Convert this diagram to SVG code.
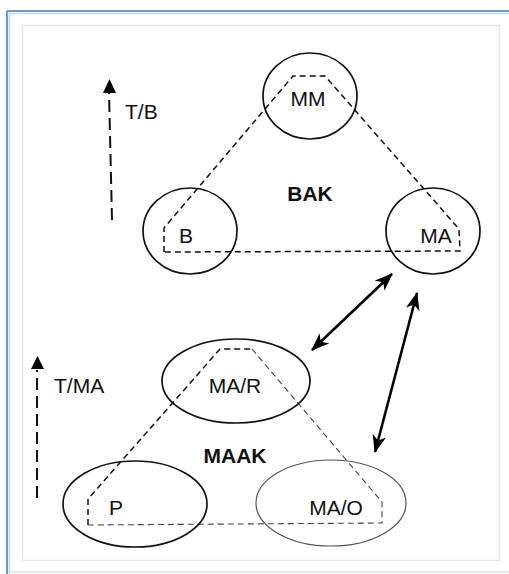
<svg xmlns="http://www.w3.org/2000/svg" width="509" height="574" viewBox="0 0 509 574">
<defs>
<style>
.node{fill:none;stroke:#111;stroke-width:1.7}
.node2{fill:none;stroke:#555;stroke-width:1.2}
.dash{fill:none;stroke:#111;stroke-width:1.5;stroke-dasharray:6 4}
.dash2{fill:none;stroke:#444;stroke-width:1.1;stroke-dasharray:6 4}
.axis{fill:none;stroke:#111;stroke-width:2;stroke-dasharray:12 6}
.conn{fill:none;stroke:#000;stroke-width:2.6}
.lbl{font-family:"Liberation Sans",Arial,sans-serif;font-size:21px;fill:#111}
.bold{font-family:"Liberation Sans",Arial,sans-serif;font-size:21px;font-weight:bold;fill:#111}
</style>
<marker id="ah" viewBox="0 0 18 14" refX="17" refY="7" markerWidth="18" markerHeight="14" markerUnits="userSpaceOnUse" orient="auto-start-reverse">
<path d="M0,0 L18,7 L0,14 L5,7 Z" fill="#000"/>
</marker>
</defs>
<rect x="0" y="0" width="509" height="574" fill="#fff"/>
<g id="frame">
<line x1="7" y1="11" x2="7" y2="574" stroke="#6a9bd0" stroke-width="2.2"/>
<line x1="7" y1="11" x2="509" y2="11" stroke="#6a9bd0" stroke-width="2.2"/>
<line x1="9.5" y1="13" x2="9.5" y2="574" stroke="#c7d8ec" stroke-width="1.5"/>
<line x1="9" y1="13.5" x2="509" y2="13.5" stroke="#c7d8ec" stroke-width="1.5"/>
<line x1="8" y1="572" x2="509" y2="572" stroke="#e6e6e6" stroke-width="2"/>
<rect x="22.5" y="25.5" width="477" height="535" fill="none" stroke="#e8e8e8" stroke-width="1.5"/>
</g>
<g id="axes">
<line class="axis" x1="112" y1="220" x2="109" y2="92"/>
<path d="M103,93 L109.5,79 L116,93 Z" fill="#000"/>
<text class="lbl" x="125" y="119">T/B</text>
<line class="axis" x1="37" y1="498" x2="37" y2="370"/>
<path d="M31,369 L37.5,356 L44,369 Z" fill="#000"/>
<text class="lbl" x="54" y="393">T/MA</text>
</g>
<g id="bak">
<path class="dash" d="M164,252 L164,228 L293,76 L325,76 L459,229 L460,251 Z"/>
<text class="bold" x="310" y="201" text-anchor="middle">BAK</text>
</g>
<g id="maak">
<path class="dash" d="M88,525 L88,499 L220,349 L252,349"/>
<path class="dash2" d="M252,349 L382,502 L382,523 L88,525"/>
<text class="bold" x="235" y="463" text-anchor="middle">MAAK</text>
</g>
<g id="node-MM">
<ellipse class="node" cx="310" cy="96" rx="47" ry="43"/>
<text class="lbl" x="308" y="106" text-anchor="middle">MM</text>
</g>
<g id="node-B">
<ellipse class="node" cx="190" cy="231" rx="47" ry="43"/>
<text class="lbl" x="186" y="243" text-anchor="middle">B</text>
</g>
<g id="node-MA">
<ellipse class="node" cx="433" cy="231" rx="47" ry="43"/>
<text class="lbl" x="436" y="243" text-anchor="middle">MA</text>
</g>
<g id="node-MAR">
<ellipse class="node" cx="236" cy="381" rx="74" ry="42"/>
<text class="lbl" x="235" y="393" text-anchor="middle">MA/R</text>
</g>
<g id="node-P">
<ellipse class="node" cx="135" cy="504" rx="72" ry="43"/>
<text class="lbl" x="116" y="515" text-anchor="middle">P</text>
</g>
<g id="node-MAO">
<ellipse class="node2" cx="331" cy="503" rx="75" ry="43"/>
<text class="lbl" x="336" y="515" text-anchor="middle">MA/O</text>
</g>
<g id="connectors">
<line class="conn" x1="312" y1="350" x2="392" y2="274" marker-start="url(#ah)" marker-end="url(#ah)"/>
<line class="conn" x1="375" y1="452" x2="417" y2="293" marker-start="url(#ah)" marker-end="url(#ah)"/>
</g>
</svg>
